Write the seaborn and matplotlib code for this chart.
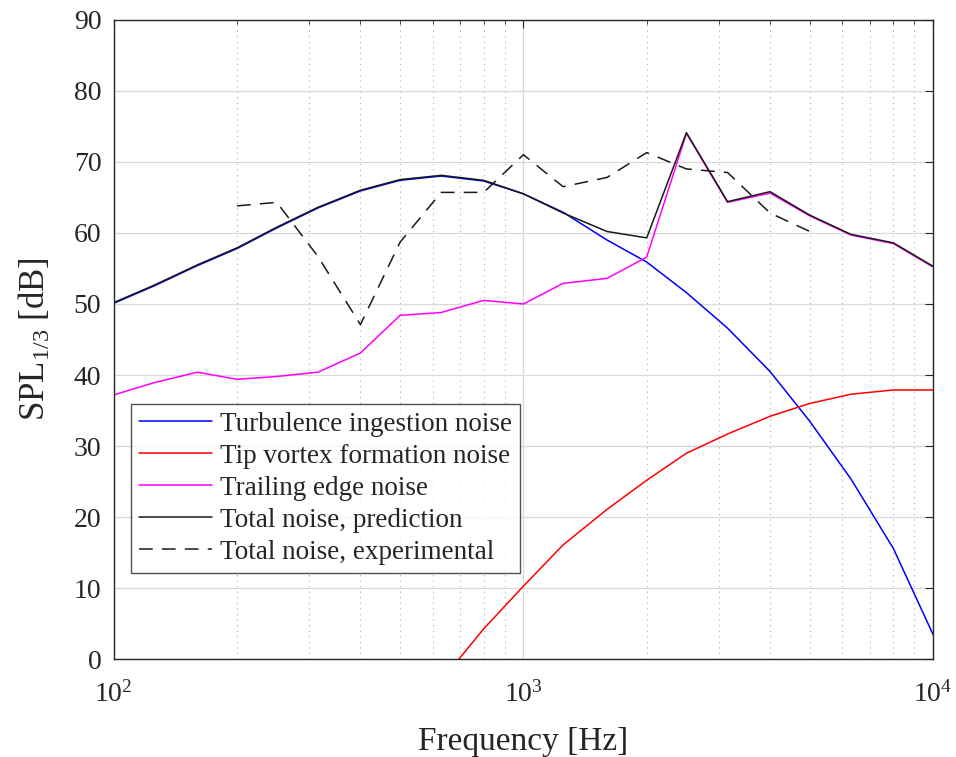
import numpy as np
import pandas as pd
import matplotlib
matplotlib.use("Agg")
import matplotlib.pyplot as plt
import seaborn as sns
from matplotlib.ticker import LogLocator, NullFormatter, MultipleLocator

# one-third octave band centre frequencies [Hz]
freq = [100, 125, 160, 200, 250, 315, 400, 500, 630, 800, 1000,
        1250, 1600, 2000, 2500, 3150, 4000, 5000, 6300, 8000, 10000]

turbulence = [50.1, 52.5, 55.4, 57.8, 60.7, 63.5, 65.9, 67.4, 68.0, 67.3, 65.5,
              62.9, 59.0, 55.9, 51.6, 46.6, 40.5, 33.5, 25.4, 15.6, 3.5]
tip_vortex = [np.nan, np.nan, np.nan, np.nan, np.nan, np.nan, np.nan, np.nan, -3.0, 4.3, 10.3,
              16.1, 21.1, 25.2, 29.0, 31.7, 34.2, 36.0, 37.3, 37.9, 37.9]
trailing_edge = [37.2, 38.9, 40.4, 39.4, 39.8, 40.4, 43.1, 48.4, 48.8, 50.5, 50.0,
                 52.9, 53.6, 56.6, 74.0, 64.3, 65.6, 62.4, 59.7, 58.5, 55.2]
total_pred = [50.2, 52.6, 55.5, 57.9, 60.8, 63.6, 66.0, 67.5, 68.1, 67.4, 65.5,
              62.8, 60.2, 59.3, 74.1, 64.4, 65.8, 62.5, 59.8, 58.6, 55.3]

freq_exp = [200, 250, 315, 400, 500, 630, 800, 1000, 1250, 1600, 2000, 2500, 3150, 4000, 5000]
total_exp = [63.8, 64.3, 56.7, 47.1, 58.7, 65.7, 65.7, 71.0, 66.5, 67.8, 71.3, 69.0, 68.5, 62.8, 60.2]

labels = ['Turbulence ingestion noise', 'Tip vortex formation noise',
          'Trailing edge noise', 'Total noise, prediction', 'Total noise, experimental']

sns.set_style('white')
plt.rcParams['font.family'] = ['Liberation Serif', 'DejaVu Serif']
plt.rcParams['mathtext.fontset'] = 'custom'
plt.rcParams['mathtext.rm'] = 'Liberation Serif'
plt.rcParams['mathtext.it'] = 'Liberation Serif'

fig = plt.figure(figsize=(9.56, 7.57), dpi=100)
ax = fig.add_axes([0.119, 0.129, 0.857, 0.845])

df = pd.DataFrame({'f': freq, 'turb': turbulence, 'tip': tip_vortex,
                   'te': trailing_edge, 'tot': total_pred})
dfe = pd.DataFrame({'f': freq_exp, 'exp': total_exp})

lw = 1.1
sns.lineplot(data=df, x='f', y='turb', color='#0000ff', lw=lw, ax=ax, label=labels[0])
sns.lineplot(data=df.dropna(), x='f', y='tip', color='#ff0000', lw=lw, ax=ax, label=labels[1])
sns.lineplot(data=df, x='f', y='te', color='#ff00ff', lw=lw, ax=ax, label=labels[2])
sns.lineplot(data=df, x='f', y='tot', color='#1a1a1a', lw=lw, ax=ax, label=labels[3])
sns.lineplot(data=dfe, x='f', y='exp', color='#1a1a1a', lw=lw, ax=ax, label=labels[4])
ax.lines[-1].set_dashes((9, 6))

ax.set_xscale('log')
ax.set_xlim(100, 10000)
ax.set_ylim(0, 90)
ax.yaxis.set_major_locator(MultipleLocator(10))
ax.xaxis.set_major_locator(LogLocator(base=10, numticks=10))
ax.xaxis.set_minor_locator(LogLocator(base=10, subs=np.arange(2, 10), numticks=20))
ax.xaxis.set_minor_formatter(NullFormatter())

ax.grid(True, which='major', color='#d9d9d9', lw=0.9, ls='-')
ax.grid(True, which='minor', axis='x', color='#aaaaaa', lw=0.8, ls=(0, (1, 4)))
ax.set_axisbelow(True)

for s in ax.spines.values():
    s.set_color('#262626')
    s.set_linewidth(1.0)
ax.tick_params(which='both', direction='in', top=True, right=True, colors='#262626',
               labelsize=20, labelcolor='#262626')
ax.tick_params(which='major', length=6)
ax.tick_params(which='minor', length=3)
ax.tick_params(axis='y', which='major', pad=9)
ax.tick_params(axis='x', which='major', pad=16)

ax.set_xlabel('Frequency [Hz]', fontsize=24, color='#262626', labelpad=13)
ax.set_ylabel(r'SPL$_{1/3}$ [dB]', fontsize=25, color='#262626', labelpad=15)

leg = ax.legend(loc='lower left', bbox_to_anchor=(0.021, 0.135), fontsize=19.5,
                frameon=True, fancybox=False, edgecolor='#262626',
                handlelength=2.7, handletextpad=0.3, labelspacing=0.26,
                borderpad=0.3, borderaxespad=0)
leg.get_frame().set_linewidth(1.0)

fig.savefig('out.png', dpi=100, facecolor='white')
